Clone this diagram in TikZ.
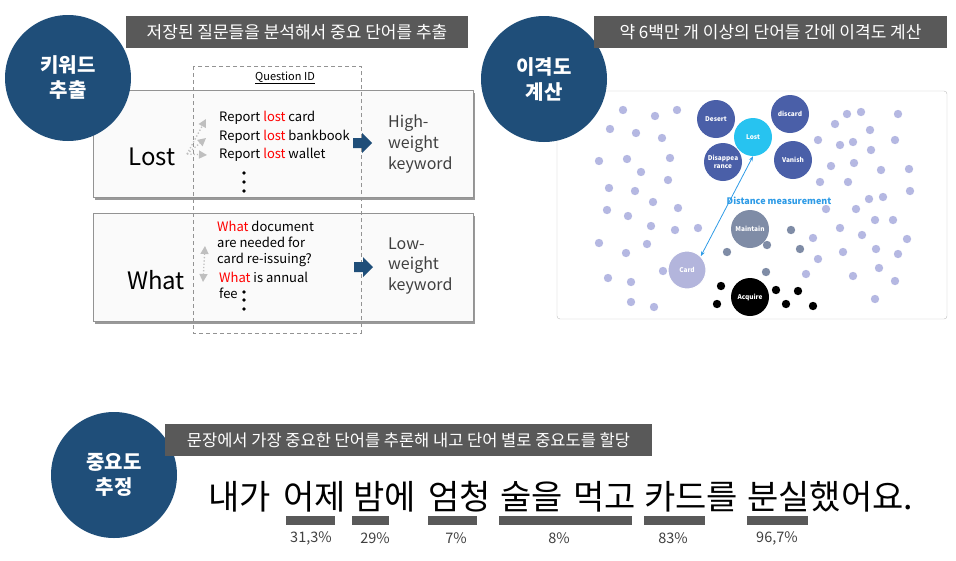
\documentclass[tikz,border=0pt]{standalone}
\usepackage{fontspec}
\setmainfont{Noto Sans CJK KR}
\usetikzlibrary{arrows.meta,shadows}
\definecolor{navy}{HTML}{1F4E79}
\definecolor{bargray}{HTML}{595959}
\definecolor{txtgray}{HTML}{404040}
\definecolor{wordblue}{HTML}{4A5FA8}
\definecolor{lostcyan}{HTML}{27C3F0}
\definecolor{maingray}{HTML}{7F8CA6}
\definecolor{cardlav}{HTML}{B3B5DC}
\definecolor{dotlav}{HTML}{B5B8E2}
\definecolor{distblue}{HTML}{2E9BE6}
\newcommand{\hl}[1]{\textcolor{red}{#1}}

\begin{document}
\begin{tikzpicture}
 [x=1pt,y=-1pt,every node/.style={inner sep=0pt},
  stage/.style={circle,fill=navy,minimum size=126pt,text=white,align=center,font=\fontsize{20}{25}\selectfont\bfseries},
  title/.style={fill=bargray,text=white,minimum height=32pt,font=\fontsize{17}{20}\selectfont},
  panel/.style={draw=gray!85,fill=gray!4,drop shadow={shadow xshift=2pt,shadow yshift=-2.5pt,opacity=.4,fill=black}},
  qtext/.style={anchor=west,align=left,font=\fontsize{13}{16}\selectfont},
  weight/.style={anchor=west,align=left,text=txtgray,font=\fontsize{16}{20.5}\selectfont},
  hint/.style={gray!50,line width=1.3pt,dotted,-{Triangle[length=8pt,width=8pt]}},
  word/.style={circle,minimum size=38pt,text=white,align=center,font=\fontsize{6.5}{7.5}\selectfont\bfseries},
  say/.style={anchor=base west,font=\fontsize{34}{36}\selectfont},
  pct/.style={text=txtgray,font=\fontsize{14.5}{16}\selectfont}]
  \useasboundingbox (0,0) rectangle (956,560);

  % keyword extraction
  \node[panel,minimum width=380pt,minimum height=107pt] (box1) at (283,143.5) {};
  \node[panel,minimum width=380pt,minimum height=108pt] (box2) at (283,267) {};
  \draw[gray!85,dash pattern=on 4pt off 3pt] (193,66) rectangle (361,333);
  \node[font=\fontsize{11}{13}\selectfont] (qid) at (285,78) {\underline{Question ID}};

  \node[font=\fontsize{24}{28}\selectfont] (lost) at (152,157) {Lost};
  \node[qtext] (r1) at (219,118) {Report \hl{lost} card};
  \node[qtext] (r2) at (219,137) {Report \hl{lost} bankbook};
  \node[qtext] (r3) at (219,155) {Report \hl{lost} wallet};
  \foreach \y in {173,182,191} \fill (244,\y) circle (1.9);
  \coordinate (lsrc) at (187,154);
  \coordinate (lt1) at (206,119);
  \coordinate (lt2) at (206,138);
  \coordinate (lt3) at (207,155);
  \foreach \t in {lt1,lt2,lt3}
    \draw[hint] (lsrc) -- (\t);
  \node[weight] (high) at (388,144) {High-\\weight\\keyword};

  \node[font=\fontsize{24}{28}\selectfont] (what) at (156,280) {What};
  \node[qtext] (q1) at (217,244) {\hl{What} document\\are needed for\\card re-issuing?};
  \node[qtext] (q2) at (219,285) {\hl{What} is annual\\fee};
  \foreach \y in {292,300,309} \fill (244,\y) circle (1.9);
  \coordinate (wt1) at (205,246);
  \coordinate (wt2) at (203,282);
  \draw[hint,{Triangle[length=8pt,width=8pt]}-{Triangle[length=8pt,width=8pt]}] (wt1) -- (wt2);
  \node[weight] (low) at (388,266) {Low-\\weight\\keyword};

  % block arrows into the weight labels
  \foreach \x/\y in {362/143,363/267}
    \fill[navy,shift={(\x,\y)}] (-9,-5) -- (0,-5) -- (0,-10) -- (10,0) -- (0,10) -- (0,5) -- (-9,5) -- cycle;

  \node[stage] (key) at (68,78) {키워드\\추출};
  \node[title,minimum width=342pt] (t1) at (297,32) {저장된 질문들을 분석해서 중요 단어를 추출};

  % distance
  \draw[gray!50,rounded corners=3pt] (557,91) rectangle (947,319);
  \foreach \x/\y in {623/110,655/116,677/110,610/129,636/133,662/138,599/161,627/159,670/158,641/172,
    668/180,609/188,635/191,653/202,607/210,678/208,628/216,651/226,675/230,698/228,599/243,647/244,
    626/253,663/271,608/278,631/282,631/302,654/307,
    847/114,861/112,898/114,835/124,870/130,818/140,840/145,853/142,871/150,895/140,831/166,854/163,
    881/170,909/169,820/182,848/182,910/191,869/199,883/197,826/209,856/209,875/220,893/220,840/228,
    862/235,907/239,813/238,876/249,843/252,898/254,818/259,879/268,806/274,853/276,895/281,875/299}
    \fill[dotlav] (\x,\y) circle (4.2);
  \foreach \x/\y in {791/230,767/245,800/249,727/252,766/272}
    \fill[maingray] (\x,\y) circle (4.2);
  \foreach \x/\y in {721/286,717/304,776/290,798/291,786/304,813/306}
    \fill[black] (\x,\y) circle (4.2);

  \node[word,fill=wordblue] (desert) at (716,119) {Desert};
  \node[word,fill=wordblue] (discard) at (790,114) {discard};
  \node[word,fill=wordblue] (disap) at (723,162) {Disappea\\rance};
  \node[word,fill=wordblue] (vanish) at (793,160) {Vanish};
  \node[word,fill=lostcyan] (Lost) at (753,137) {Lost};
  \node[word,fill=maingray] (maintain) at (750,229) {Maintain};
  \node[word,fill=cardlav,draw=white,line width=1pt] (card) at (687,270) {Card};
  \node[word,fill=black] (acquire) at (750,297) {Acquire};
  \draw[distblue,line width=.8pt,{Stealth[length=5pt]}-{Stealth[length=5pt]}] (Lost.south) -- (card.45);
  \node[text=distblue,font=\fontsize{9}{11}\selectfont\bfseries] (dist) at (779,201) {Distance measurement};

  \node[stage] (gap) at (544,79) {이격도\\계산};
  \node[title,minimum width=353pt] (t2) at (770.5,32) {약 6백만 개 이상의 단어들 간에 이격도 계산};

  % importance
  \node[stage] (imp) at (114,475) {중요도\\추정};
  \node[title,minimum width=487pt,font=\fontsize{16.5}{20}\selectfont] (t3) at (408.5,440) {문장에서 가장 중요한 단어를 추론해 내고 단어 별로 중요도를 할당};

  \node[say] (w1) at (208,509) {내가};
  \node[say] (w2) at (283,509) {어제};
  \node[say] (w3) at (353,509) {밤에};
  \node[say] (w4) at (428,509) {엄청};
  \node[say] (w5) at (500,509) {술을};
  \node[say] (w6) at (573,509) {먹고};
  \node[say] (w7) at (644,509) {카드를};
  \node[say] (w8) at (747,509) {분실했어요.};

  \foreach \l/\r/\c/\p in {286/335/311/{31,3\%},352/389/375/{29\%},428/477/456/{7\%},
    499/632/559/{8\%},644/705/673/{83\%},747/808/777/{96,7\%}}{
    \fill[bargray] (\l,516) rectangle (\r,525);
    \node[pct] at (\c,538) {\p};
  }
\end{tikzpicture}
\end{document}
